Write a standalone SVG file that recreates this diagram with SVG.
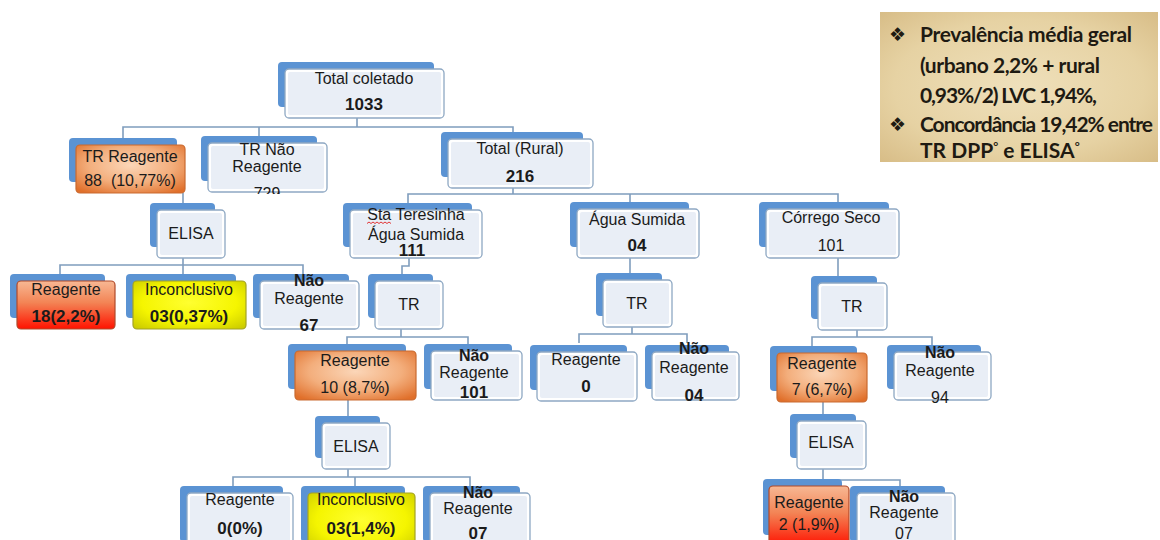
<svg xmlns="http://www.w3.org/2000/svg" width="1160" height="540" viewBox="0 0 1160 540">
  <defs>
    <style>
      .back { fill: #5b93d3; }
      .rim { fill: #ffffff; stroke: #8ea8c3; stroke-width: 1.3; }
      .pane { fill: #e9eef6; }
      .orange { fill: url(#gOrange); stroke: #c96a30; stroke-width: 1.2; }
      .red { fill: url(#gRed); stroke: #b04a2a; stroke-width: 1.2; }
      .yellow { fill: url(#gYellow); stroke: #a3a325; stroke-width: 1.2; }
      .lbl { font-family: "Liberation Sans", Arial, sans-serif; font-size: 16px; fill: #1b1b1b; text-anchor: middle; }
      .b { font-weight: bold; }
      .num { font-weight: bold; font-size: 17px; }
      .wire { fill: none; stroke: #7f9dbd; stroke-width: 1.6; }
      .note { font-family: Lato, "Open Sans", "Liberation Sans", sans-serif; font-weight: bold; font-size: 21px; fill: #1e1a12; }
      .sup { font-size: 12px; }
      .bullet { font-family: "DejaVu Sans", sans-serif; font-size: 19px; fill: #1e1a12; }
    </style>
    <radialGradient id="gOrange" cx="50%" cy="42%" r="70%">
      <stop offset="0" stop-color="#fbd6b8"/>
      <stop offset="0.55" stop-color="#f3ae7c"/>
      <stop offset="1" stop-color="#e06f2a"/>
    </radialGradient>
    <linearGradient id="gRed" x1="0" y1="0" x2="0" y2="1">
      <stop offset="0" stop-color="#f7b894"/>
      <stop offset="0.45" stop-color="#f38455"/>
      <stop offset="1" stop-color="#ff1200"/>
    </linearGradient>
    <radialGradient id="gYellow" cx="50%" cy="45%" r="70%">
      <stop offset="0" stop-color="#ffff30"/>
      <stop offset="0.6" stop-color="#f5f500"/>
      <stop offset="1" stop-color="#cccc00"/>
    </radialGradient>
    <radialGradient id="gPapyrus" cx="50%" cy="50%" r="75%">
      <stop offset="0" stop-color="#efe0bb"/>
      <stop offset="0.6" stop-color="#e6d2a3"/>
      <stop offset="1" stop-color="#d5b982"/>
    </radialGradient>
    <clipPath id="clipTrNao">
      <rect x="200" y="130" width="140" height="64"/>
    </clipPath>
  </defs>

  <rect width="1160" height="540" fill="#ffffff"/>

  <!-- summary note -->
  <g id="note">
    <rect x="880" y="12" width="278" height="150" fill="url(#gPapyrus)"/>
    <text class="bullet" x="889" y="41">❖</text>
    <text class="note" x="920" y="42" textLength="212" lengthAdjust="spacing">Prevalência média geral</text>
    <text class="note" x="920" y="73" textLength="180" lengthAdjust="spacing">(urbano 2,2% + rural</text>
    <text class="note" x="920" y="103" textLength="177" lengthAdjust="spacing">0,93%/2) LVC 1,94%,</text>
    <text class="bullet" x="889" y="131">❖</text>
    <text class="note" x="920" y="132" textLength="233" lengthAdjust="spacing">Concordância 19,42% entre</text>
    <text class="note" x="920" y="158">TR DPP<tspan class="sup" dy="-8">°</tspan><tspan dy="8"> e ELISA</tspan><tspan class="sup" dy="-8">°</tspan></text>
  </g>

  <!-- tree connectors -->
  <g id="connectors" class="wire">
    <path d="M357,118 V127 M123,138 V127 H513 V133 M259,127 V137"/>
    <path d="M183,193 V203"/>
    <path d="M183,258 V274 M60,274 V265 H303 V274"/>
    <path d="M513,188 V194 M408,203 V194 H838 V202 M630,194 V202"/>
    <path d="M409,258 V266 H402 V274"/>
    <path d="M401,329 V337 M347,344 V337 H468 V344"/>
    <path d="M348,400 V416"/>
    <path d="M348,469 V477 M233,486 V477 H470 V486 M355,477 V486"/>
    <path d="M630,258 V273"/>
    <path d="M632,327 V334 M579,343 V334 H687 V343"/>
    <path d="M838,258 V276"/>
    <path d="M857,330 V337 M812,346 V337 H932 V345"/>
    <path d="M823,402 V414"/>
    <path d="M823,469 V480 M800,479 V480 H900 V486"/>
  </g>

  <!-- level 0 -->
  <g id="total-coletado">
    <rect class="back" x="278" y="62" width="156" height="45" rx="4"/>
    <rect class="rim" x="285" y="69" width="159" height="49" rx="4"/>
    <rect class="pane" x="288" y="72" width="153" height="43" rx="2"/>
    <text class="lbl" x="364" y="84">Total coletado</text>
    <text class="lbl num" x="364" y="110">1033</text>
  </g>

  <!-- urban branch -->
  <g id="tr-reagente">
    <rect class="back" x="69" y="138" width="108" height="44" rx="4"/>
    <rect class="orange" x="76" y="145" width="109" height="48" rx="4"/>
    <text class="lbl" x="130" y="162">TR Reagente</text>
    <text class="lbl" x="130" y="186" xml:space="preserve">88  (10,77%)</text>
  </g>

  <g id="tr-nao-reagente">
    <rect class="back" x="201" y="136" width="116" height="45" rx="4"/>
    <rect class="rim" x="208" y="143" width="119" height="49" rx="4"/>
    <rect class="pane" x="211" y="146" width="113" height="43" rx="2"/>
    <text class="lbl" x="267" y="155">TR Não</text>
    <text class="lbl" x="267" y="172">Reagente</text>
    <text class="lbl" x="267" y="199" clip-path="url(#clipTrNao)">729</text>
  </g>

  <g id="elisa-urbano">
    <rect class="back" x="150" y="203" width="65" height="44" rx="4"/>
    <rect class="rim" x="157" y="210" width="68" height="48" rx="4"/>
    <rect class="pane" x="160" y="213" width="62" height="42" rx="2"/>
    <text class="lbl" x="191" y="239">ELISA</text>
  </g>

  <g id="elisa-urbano-reagente">
    <rect class="back" x="10" y="274" width="95" height="44" rx="4"/>
    <rect class="red" x="17" y="281" width="98" height="48" rx="4"/>
    <text class="lbl" x="66" y="295">Reagente</text>
    <text class="lbl num" x="66" y="322">18(2,2%)</text>
  </g>

  <g id="elisa-urbano-inconclusivo">
    <rect class="back" x="126" y="274" width="110" height="44" rx="4"/>
    <rect class="yellow" x="133" y="281" width="113" height="48" rx="4"/>
    <text class="lbl" x="189" y="295">Inconclusivo</text>
    <text class="lbl num" x="189" y="322">03(0,37%)</text>
  </g>

  <g id="elisa-urbano-nao-reagente">
    <rect class="back" x="253" y="274" width="96" height="44" rx="4"/>
    <rect class="rim" x="260" y="281" width="99" height="48" rx="4"/>
    <rect class="pane" x="263" y="284" width="93" height="42" rx="2"/>
    <text class="lbl b" x="309" y="286">Não</text>
    <text class="lbl" x="309" y="304">Reagente</text>
    <text class="lbl num" x="309" y="331">67</text>
  </g>

  <!-- rural branch -->
  <g id="total-rural">
    <rect class="back" x="441" y="132" width="142" height="45" rx="4"/>
    <rect class="rim" x="448" y="139" width="145" height="49" rx="4"/>
    <rect class="pane" x="451" y="142" width="139" height="43" rx="2"/>
    <text class="lbl" x="520" y="154">Total (Rural)</text>
    <text class="lbl num" x="520" y="182">216</text>
  </g>

  <g id="sta-teresinha">
    <rect class="back" x="343" y="203" width="129" height="44" rx="4"/>
    <rect class="rim" x="350" y="210" width="132" height="48" rx="4"/>
    <rect class="pane" x="353" y="213" width="126" height="42" rx="2"/>
    <text class="lbl" x="416" y="220">Sta Teresinha</text>
    <path d="M367,223.5 l2,-1.5 l2,1.5 l2,-1.5 l2,1.5 l2,-1.5 l2,1.5 l2,-1.5 l2,1.5 l2,-1.5 l2,1.5 l2,-1.5 l2,1.5" fill="none" stroke="#e02020" stroke-width="0.9"/>
    <text class="lbl" x="416" y="240">Água Sumida</text>
    <text class="lbl num" x="412" y="256">111</text>
  </g>

  <g id="sta-tr">
    <rect class="back" x="368" y="274" width="65" height="44" rx="4"/>
    <rect class="rim" x="375" y="281" width="68" height="48" rx="4"/>
    <rect class="pane" x="378" y="284" width="62" height="42" rx="2"/>
    <text class="lbl" x="409" y="310">TR</text>
  </g>

  <g id="sta-tr-reagente">
    <rect class="back" x="288" y="344" width="118" height="45" rx="4"/>
    <rect class="orange" x="295" y="351" width="121" height="49" rx="4"/>
    <text class="lbl" x="355" y="366">Reagente</text>
    <text class="lbl" x="355" y="393">10 (8,7%)</text>
  </g>

  <g id="sta-tr-nao-reagente">
    <rect class="back" x="424" y="344" width="88" height="45" rx="4"/>
    <rect class="rim" x="431" y="351" width="91" height="49" rx="4"/>
    <rect class="pane" x="434" y="354" width="85" height="43" rx="2"/>
    <text class="lbl b" x="474" y="361">Não</text>
    <text class="lbl" x="474" y="378">Reagente</text>
    <text class="lbl num" x="474" y="398">101</text>
  </g>

  <g id="sta-elisa">
    <rect class="back" x="315" y="416" width="65" height="42" rx="4"/>
    <rect class="rim" x="322" y="423" width="68" height="46" rx="4"/>
    <rect class="pane" x="325" y="426" width="62" height="40" rx="2"/>
    <text class="lbl" x="356" y="452">ELISA</text>
  </g>

  <g id="sta-elisa-reagente">
    <rect class="back" x="180" y="486" width="103" height="56" rx="4"/>
    <rect class="rim" x="187" y="493" width="106" height="60" rx="4"/>
    <rect class="pane" x="190" y="496" width="100" height="54" rx="2"/>
    <text class="lbl" x="240" y="505">Reagente</text>
    <text class="lbl num" x="240" y="534">0(0%)</text>
  </g>

  <g id="sta-elisa-inconclusivo">
    <rect class="back" x="301" y="486" width="104" height="56" rx="4"/>
    <rect class="yellow" x="308" y="493" width="107" height="60" rx="4"/>
    <text class="lbl" x="361" y="505">Inconclusivo</text>
    <text class="lbl num" x="361" y="534">03(1,4%)</text>
  </g>

  <g id="sta-elisa-nao-reagente">
    <rect class="back" x="423" y="486" width="97" height="56" rx="4"/>
    <rect class="rim" x="430" y="493" width="100" height="60" rx="4"/>
    <rect class="pane" x="433" y="496" width="94" height="54" rx="2"/>
    <text class="lbl b" x="478" y="498">Não</text>
    <text class="lbl" x="478" y="514">Reagente</text>
    <text class="lbl num" x="478" y="539">07</text>
  </g>

  <g id="agua-sumida">
    <rect class="back" x="570" y="202" width="119" height="45" rx="4"/>
    <rect class="rim" x="577" y="209" width="122" height="49" rx="4"/>
    <rect class="pane" x="580" y="212" width="116" height="43" rx="2"/>
    <text class="lbl" x="637" y="225">Água Sumida</text>
    <text class="lbl num" x="637" y="251">04</text>
  </g>

  <g id="agua-tr">
    <rect class="back" x="596" y="273" width="66" height="43" rx="4"/>
    <rect class="rim" x="603" y="280" width="69" height="47" rx="4"/>
    <rect class="pane" x="606" y="283" width="63" height="41" rx="2"/>
    <text class="lbl" x="637" y="309">TR</text>
  </g>

  <g id="agua-tr-reagente">
    <rect class="back" x="530" y="345" width="97" height="45" rx="4"/>
    <rect class="rim" x="537" y="352" width="100" height="49" rx="4"/>
    <rect class="pane" x="540" y="355" width="94" height="43" rx="2"/>
    <text class="lbl" x="586" y="365">Reagente</text>
    <text class="lbl num" x="586" y="392">0</text>
  </g>

  <g id="agua-tr-nao-reagente">
    <rect class="back" x="645" y="345" width="84" height="44" rx="4"/>
    <rect class="rim" x="652" y="352" width="87" height="48" rx="4"/>
    <rect class="pane" x="655" y="355" width="81" height="42" rx="2"/>
    <text class="lbl b" x="694" y="354">Não</text>
    <text class="lbl" x="694" y="373">Reagente</text>
    <text class="lbl num" x="694" y="401">04</text>
  </g>

  <g id="corrego-seco">
    <rect class="back" x="759" y="202" width="130" height="45" rx="4"/>
    <rect class="rim" x="766" y="209" width="133" height="49" rx="4"/>
    <rect class="pane" x="769" y="212" width="127" height="43" rx="2"/>
    <text class="lbl" x="831" y="223">Córrego Seco</text>
    <text class="lbl" x="831" y="251">101</text>
  </g>

  <g id="corrego-tr">
    <rect class="back" x="811" y="276" width="66" height="43" rx="4"/>
    <rect class="rim" x="818" y="283" width="69" height="47" rx="4"/>
    <rect class="pane" x="821" y="286" width="63" height="41" rx="2"/>
    <text class="lbl" x="852" y="312">TR</text>
  </g>

  <g id="corrego-tr-reagente">
    <rect class="back" x="770" y="346" width="87" height="45" rx="4"/>
    <rect class="orange" x="777" y="353" width="90" height="49" rx="4"/>
    <text class="lbl" x="822" y="369">Reagente</text>
    <text class="lbl" x="822" y="395">7 (6,7%)</text>
  </g>

  <g id="corrego-tr-nao-reagente">
    <rect class="back" x="887" y="345" width="94" height="44" rx="4"/>
    <rect class="rim" x="894" y="352" width="97" height="48" rx="4"/>
    <rect class="pane" x="897" y="355" width="91" height="42" rx="2"/>
    <text class="lbl b" x="940" y="358">Não</text>
    <text class="lbl" x="940" y="376">Reagente</text>
    <text class="lbl" x="940" y="403">94</text>
  </g>

  <g id="corrego-elisa">
    <rect class="back" x="790" y="414" width="66" height="44" rx="4"/>
    <rect class="rim" x="797" y="421" width="69" height="48" rx="4"/>
    <rect class="pane" x="800" y="424" width="63" height="42" rx="2"/>
    <text class="lbl" x="831" y="448">ELISA</text>
  </g>

  <g id="corrego-elisa-nao-reagente">
    <rect class="back" x="850" y="486" width="95" height="56" rx="4"/>
    <rect class="rim" x="857" y="493" width="98" height="60" rx="4"/>
    <rect class="pane" x="860" y="496" width="92" height="54" rx="2"/>
    <text class="lbl b" x="904" y="502">Não</text>
    <text class="lbl" x="904" y="518">Reagente</text>
    <text class="lbl" x="904" y="539">07</text>
  </g>

  <g id="corrego-elisa-reagente">
    <rect class="back" x="763" y="479" width="79" height="56" rx="4"/>
    <rect class="red" x="769" y="486" width="80" height="60" rx="4"/>
    <text class="lbl" x="809" y="508">Reagente</text>
    <text class="lbl" x="809" y="530">2 (1,9%)</text>
  </g>
</svg>
